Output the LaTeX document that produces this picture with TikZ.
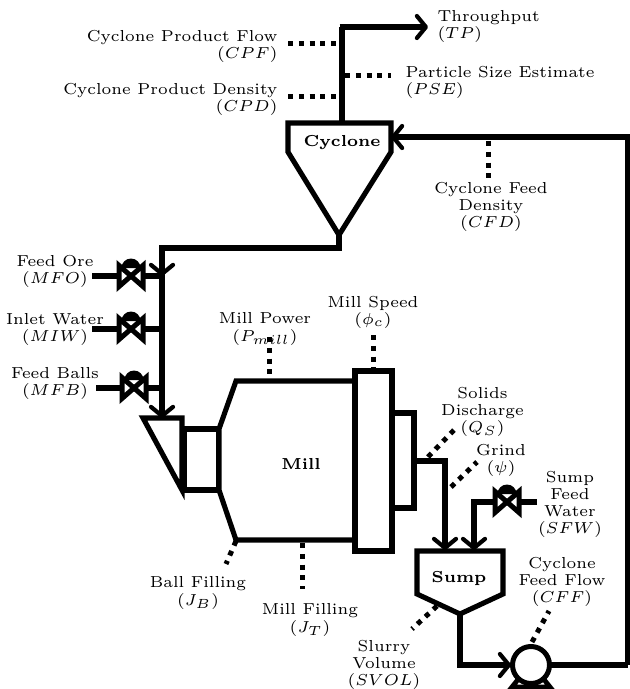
\documentclass[tikz,border=0pt]{standalone}
\usetikzlibrary{arrows.meta}
\tikzset{
  flow/.style={line width=5.1pt,line join=miter,-{Straight Barb[length=9pt,width=22pt,line width=4.2pt,round]}},
  pipe/.style={line width=5.1pt,line join=miter},
  unit/.style={line width=5.1pt,line join=miter,fill=white},
  sensor/.style={line width=5pt,dash pattern=on 5pt off 5.8pt},
  lab/.style={font=\fontsize{6}{6.45}\selectfont,scale=2.65,transform shape,inner sep=0pt,align=center},
  labr/.style={lab,align=right,anchor=east},
  labl/.style={lab,align=left,anchor=west},
  title/.style={font=\fontsize{6}{6.45}\selectfont\bfseries,scale=2.65,transform shape,inner sep=0pt},
  valvebody/.style={line width=5pt,line join=miter,miter limit=3,fill=white},
}
\newcommand{\valveat}[2]{%
  \fill (#1-9.5,#2-8) arc[start angle=180,end angle=360,radius=9.5] -- cycle;
  \draw[valvebody] (#1-12,#2-10.5) -- (#1+12,#2+10.5) -- (#1+12,#2-10.5) -- (#1-12,#2+10.5) -- cycle;
}
\begin{document}
\begin{tikzpicture}[x=1pt,y=-1pt]
\useasboundingbox (0,0) rectangle (630,689);
% key points
\coordinate (cycTop) at (342,123);
\coordinate (cycIn) at (391,137);
\coordinate (cycApex) at (339,235);
\coordinate (corner1) at (342,27);
\coordinate (tp) at (428,27);
\coordinate (feedTL) at (162,248);
\coordinate (coneTop) at (162,418);
\coordinate (midFeed) at (162,276);
\coordinate (pumpC) at (531,665);
\coordinate (retR) at (628,665);
\coordinate (retT) at (628,137);
% pipes
\draw[pipe] (cycTop) -- (corner1);
\draw[flow] (339.5,27) -- (tp);
\draw[pipe] (retR) -- (retT) -- (480,137);
\draw[flow] (480,137) -- (cycIn);
\draw[pipe] (551,665) -- (retR);
\draw[pipe] (cycApex) -- (339,248) -- (feedTL) -- (midFeed);
\draw[flow] (162,250) -- (midFeed);
\draw[flow] (162,274) -- (coneTop);
% feed valve lines
\coordinate (v1l) at (92,276); \coordinate (v1r) at (162,276);
\coordinate (v2l) at (92,329); \coordinate (v2r) at (162,329);
\coordinate (v3l) at (96,388); \coordinate (v3r) at (162,388);
\draw[pipe] (v1l) -- (v1r);
\draw[pipe] (v2l) -- (v2r);
\draw[pipe] (v3l) -- (v3r);
\valveat{131}{276}
\valveat{131}{329}
\valveat{134}{388}
% cyclone
\draw[unit] (288,123) -- (391,123) -- (391,152) -- (339,235) -- (288,152) -- cycle;
% mill
\draw[unit] (143,418) -- (182,418) -- (182,490) -- cycle;
\draw[unit] (184,429) rectangle (219,490);
\draw[unit] (219,429) -- (236,381) -- (355,381) -- (355,540) -- (236,540) -- (219,490) -- cycle;
\draw[unit] (355,371) rectangle (392,551);
\draw[unit] (392,413) rectangle (414,508);
% sump
\draw[flow] (414,461) -- (445,461) -- (445,550);
\draw[pipe] (537,502) -- (474,502) -- (474,525);
\draw[flow] (474,503) -- (474,550);
\valveat{507}{502}
\draw[unit] (417,551) -- (503,551) -- (503,594) -- (460,614) -- (417,594) -- cycle;
\draw[pipe] (460,614) -- (460,665) -- (490,665);
\draw[flow] (490,665) -- (511,665);
% pump
\draw[line width=4.8pt,fill=white] (512,687) -- (520,677) -- (542,677) -- (550,687) -- cycle;
\draw[line width=5pt,fill=white] (pumpC) circle[radius=18.5];
% sensors
\draw[sensor] (288,43) -- (338,43);
\draw[sensor] (288,96) -- (338,96);
\draw[sensor] (345,75) -- (391,75);
\draw[sensor] (488,141) -- (488,178);
\draw[sensor] (373,335) -- (373,370);
\draw[sensor] (269,337) -- (269,380);
\draw[sensor] (236,541) -- (226,564);
\draw[sensor] (302,543) -- (302,589);
\draw[sensor] (428,457) -- (454,430);
\draw[sensor] (451,487) -- (477,462);
\draw[sensor] (437,606) -- (412,629);
\draw[sensor] (532,642) -- (549,611);
% labels
\node[labl] (lTP) at (437,26.5) {Throughput\\$(TP)$};
\node[labr] (lCPF) at (278,46) {Cyclone Product Flow\\$(CPF)$};
\node[labr] (lCPD) at (278,99) {Cyclone Product Density\\$(CPD)$};
\node[labl] (lPSE) at (405,82) {Particle Size Estimate\\$(PSE)$};
\node[title] (nCyc) at (342,143) {Cyclone};
\node[lab] (lCFD) at (491,206.5) {Cyclone Feed\\Density\\$(CFD)$};
\node[lab] (lMFO) at (55,271.5) {Feed Ore\\$(MFO)$};
\node[lab] (lMIW) at (55,329.5) {Inlet Water\\$(MIW)$};
\node[lab] (lMFB) at (55,383.5) {Feed Balls\\$(MFB)$};
\node[lab] (lPm) at (265,329) {Mill Power\\$(P_{mill})$};
\node[lab] (lMS) at (373,312) {Mill Speed\\$(\phi_c)$};
\node[title] (nMill) at (301,464) {Mill};
\node[lab] (lQS) at (482.5,411.5) {Solids\\Discharge\\$(Q_S)$};
\node[lab] (lG) at (501,460) {Grind\\$(\psi)$};
\node[lab] (lSFW) at (570,504.5) {Sump\\Feed\\Water\\$(SFW)$};
\node[title] (nSump) at (459,578) {Sump};
\node[lab] (lCFF) at (562,582) {Cyclone\\Feed Flow\\$(CFF)$};
\node[lab] (lJB) at (198,593) {Ball Filling\\$(J_B)$};
\node[lab] (lJT) at (310,620) {Mill Filling\\$(J_T)$};
\node[lab] (lSV) at (384,665) {Slurry\\Volume\\$(SVOL)$};
\end{tikzpicture}
\end{document}
